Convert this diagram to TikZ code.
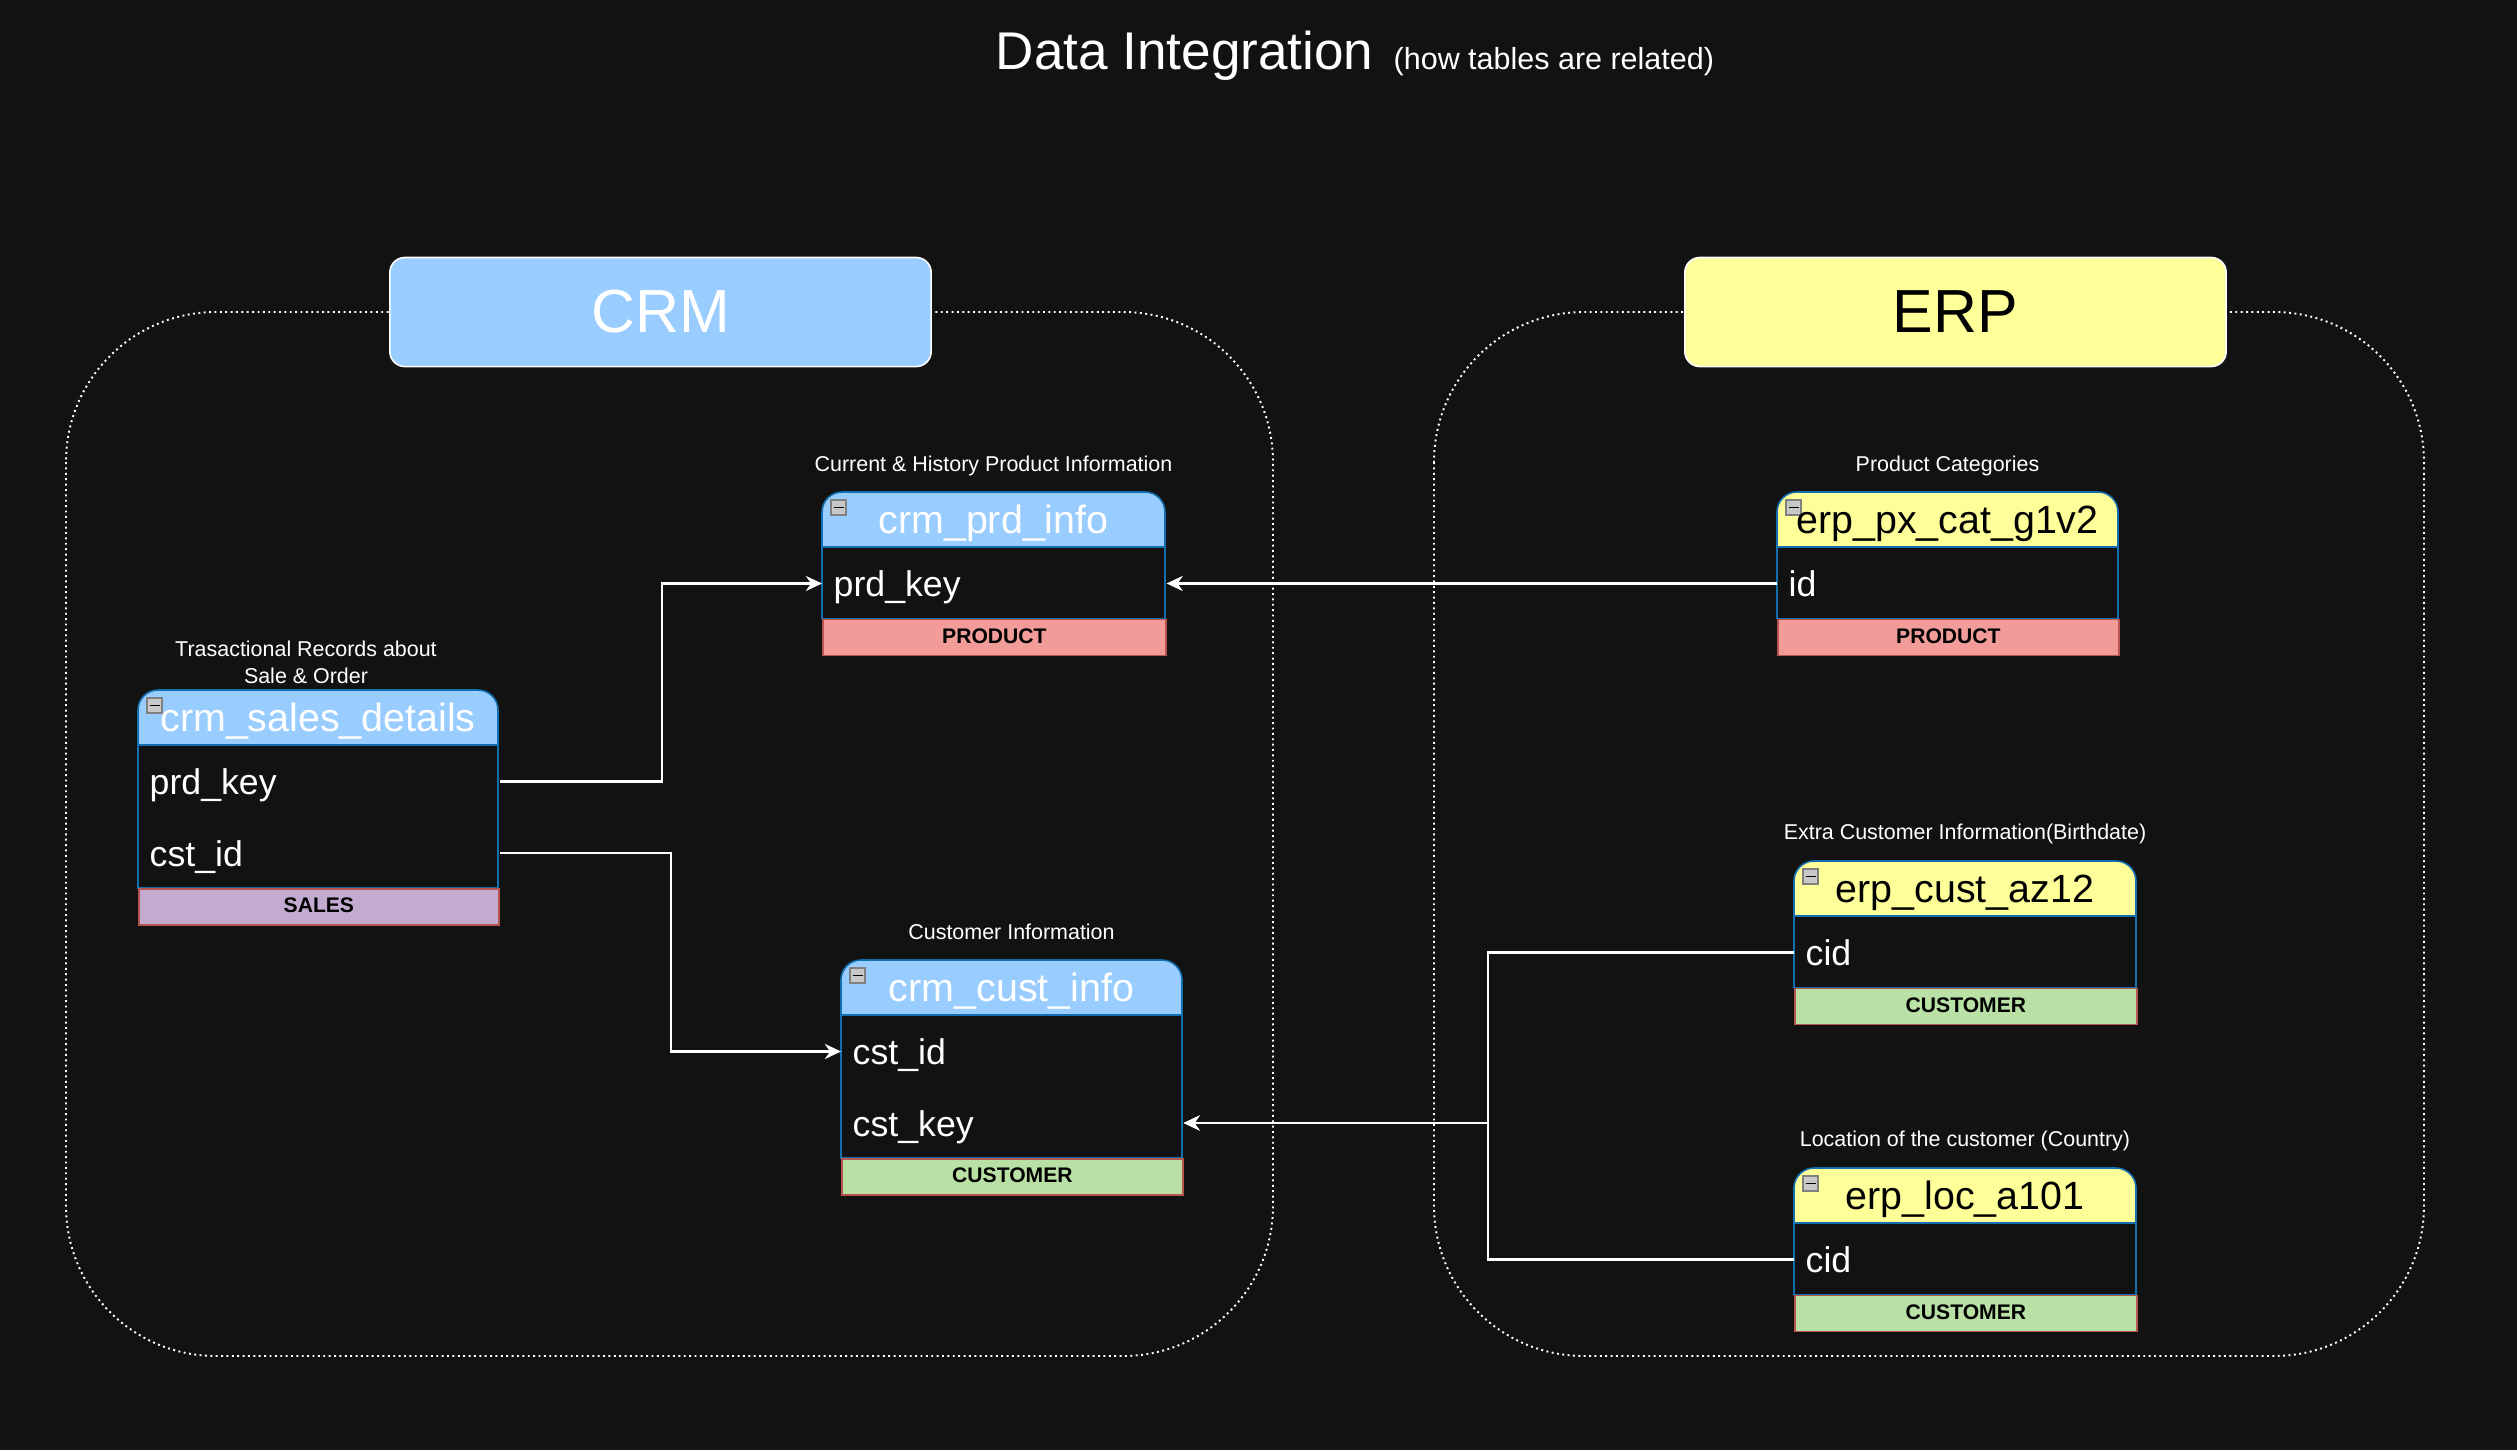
\documentclass[tikz,border=0pt]{standalone}
\usepackage{fontspec}
\setmainfont{Liberation Sans}
\usetikzlibrary{arrows.meta}

\definecolor{bg}{HTML}{121212}
\definecolor{crmblue}{HTML}{99CCFF}
\definecolor{erpyellow}{HTML}{FFFF99}
\definecolor{tblline}{HTML}{1270B0}
\definecolor{footline}{HTML}{B85450}
\definecolor{prodred}{HTML}{F19C99}
\definecolor{salespurple}{HTML}{C3ABD0}
\definecolor{custgreen}{HTML}{B9E0A5}
\definecolor{icongray}{HTML}{C8C8C8}

\begin{document}
\begin{tikzpicture}[x=0.01cm, y=-0.01cm,
  zone/.style={draw=white, line width=0.55pt, dash pattern=on 0.55pt off 0.98pt, rounded corners=1.5cm},
  group/.style={draw=white, line width=0.45pt, rounded corners=0.15cm, minimum width=5.41cm, minimum height=1.09cm, inner sep=0pt, font=\fontsize{17.3}{20}\selectfont},
  hdr/.style={draw=tblline, line width=0.45pt},
  body/.style={draw=tblline, line width=0.45pt, fill=bg},
  tname/.style={anchor=base, inner sep=0pt, font=\fontsize{11.2}{13}\selectfont},
  field/.style={anchor=north west, inner sep=0pt, inner xsep=0.11cm, minimum height=0.715cm, align=left, text=white, font=\fontsize{10.15}{12}\selectfont, text height=7.4pt, text depth=0pt},
  foot/.style={draw=footline, line width=0.45pt, anchor=north west, minimum height=0.36cm, inner sep=0pt, text height=4.3pt, text depth=0.9pt, font=\bfseries\fontsize{6}{7}\selectfont},
  lbl/.style={text=white, anchor=base, inner sep=0pt, align=center, font=\fontsize{6.1}{7.6}\selectfont},
  link/.style={draw=white, line width=0.62pt, -{Stealth[length=4.6pt, width=4.3pt, inset=1.5pt]}},
  icon/.style={draw=gray, fill=icongray, line width=0.4pt}
]

% background
\fill[bg] (0,0) rectangle (2517,1450);

% title
\node[anchor=base west, inner sep=0pt, text=white, font=\fontsize{15.1}{18}\selectfont] (title) at (995,69) {Data Integration};
\node[anchor=base west, inner sep=0pt, text=white, font=\fontsize{8.67}{10}\selectfont] (subtitle) at (1393,69) {(how tables are related)};

% dotted zones
\draw[zone] (66,312) rectangle (1273,1356);
\draw[zone] (1434,312) rectangle (2424,1356);

% zone headers
\node[group, fill=crmblue, text=white] (crm) at (660.5,312) {CRM};
\node[group, fill=erpyellow, text=black] (erp) at (1955.5,312) {ERP};

% TABLES
% header, body and collapse box
\foreach \x/\y/\w/\n/\col in
{138/690/360/2/crmblue,822/492/343/1/crmblue,841/960/341/2/crmblue,1777/492/341/1/erpyellow,1794/861/342/1/erpyellow,1794/1168/342/1/erpyellow}
{
\draw[hdr, fill=\col, rounded corners=0.2cm] (\x,\y) rectangle (\x+\w,\y+80);
\draw[body] (\x,\y+55) rectangle (\x+\w,\y+55+71.5*\n);
\draw[icon] (\x+9,\y+8) rectangle ++(15,15);
\draw[line width=0.5pt] (\x+11.5,\y+15.5) -- ++(10,0);
}

% crm_sales_details
\node[lbl, anchor=south] (sales-lbl) at (306,684) {Trasactional Records about\\Sale \& Order};
\node[tname, text=white] (sales-t) at (318,731.5) {crm\_sales\_details};
\node[field, text width=3.38cm] (sales-f1) at (138,745) {prd\_key};
\node[field, text width=3.38cm] (sales-f2) at (138,816.5) {cst\_id};
\node[foot, fill=salespurple, minimum width=3.6cm] (sales-cat) at (138,888) {SALES};

% crm_prd_info
\node[lbl] (prd-lbl) at (993.5,471) {Current \& History Product Information};
\node[tname, text=white] (prd-t) at (993.5,533.5) {crm\_prd\_info};
\node[field, text width=3.21cm] (prd-f1) at (822,547) {prd\_key};
\node[foot, fill=prodred, minimum width=3.43cm] (prd-cat) at (822,618.5) {PRODUCT};

% crm_cust_info
\node[lbl] (cust-lbl) at (1011.5,939) {Customer Information};
\node[tname, text=white] (cust-t) at (1011.5,1001.5) {crm\_cust\_info};
\node[field, text width=3.19cm] (cust-f1) at (841,1015) {cst\_id};
\node[field, text width=3.19cm] (cust-f2) at (841,1086.5) {cst\_key};
\node[foot, fill=custgreen, minimum width=3.41cm] (cust-cat) at (841,1158) {CUSTOMER};

% erp_px_cat_g1v2
\node[lbl] (pxcat-lbl) at (1947.5,471) {Product Categories};
\node[tname, text=black] (pxcat-t) at (1947.5,533.5) {erp\_px\_cat\_g1v2};
\node[field, text width=3.19cm] (pxcat-f1) at (1777,547) {id};
\node[foot, fill=prodred, minimum width=3.41cm] (pxcat-cat) at (1777,618.5) {PRODUCT};

% erp_cust_az12
\node[lbl] (az12-lbl) at (1965,839) {Extra Customer Information(Birthdate)};
\node[tname, text=black] (az12-t) at (1965,902.5) {erp\_cust\_az12};
\node[field, text width=3.2cm] (az12-f1) at (1794,916) {cid};
\node[foot, fill=custgreen, minimum width=3.42cm] (az12-cat) at (1794,987.5) {CUSTOMER};

% erp_loc_a101
\node[lbl] (loc-lbl) at (1965,1146) {Location of the customer (Country)};
\node[tname, text=black] (loc-t) at (1965,1209.5) {erp\_loc\_a101};
\node[field, text width=3.2cm] (loc-f1) at (1794,1223) {cid};
\node[foot, fill=custgreen, minimum width=3.42cm] (loc-cat) at (1794,1294.5) {CUSTOMER};

% LINKS
\coordinate (joint) at (1488,0);
\draw[link] (sales-f1.east) -- ++(162,0) |- (prd-f1.west);
\draw[link] (sales-f2.east) -- ++(171,0) |- (cust-f1.west);
\draw[link] (pxcat-f1.west) -- (prd-f1.east);
\draw[link] (az12-f1.west) -| (joint |- cust-f2.east) -- (cust-f2.east);
\draw[link] (loc-f1.west) -| (joint |- cust-f2.east) -- (cust-f2.east);

\end{tikzpicture}
\end{document}
